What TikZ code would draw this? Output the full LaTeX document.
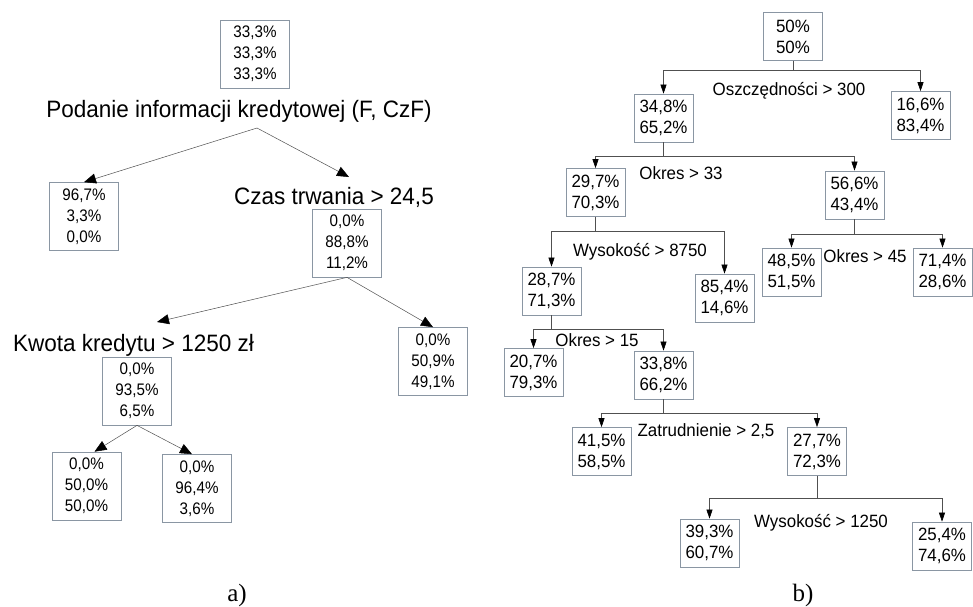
\documentclass[tikz,border=0pt]{standalone}
\usepackage{fontspec}
\setmainfont{Liberation Sans}[FakeStretch=0.95]
\newfontfamily\boxfont{Liberation Sans}[FakeStretch=0.91]
\newfontfamily\capfont{Liberation Serif}
\usepackage{xcolor}
\usepackage{tikz}
\usetikzlibrary{arrows.meta}
\definecolor{boxgray}{HTML}{8A96A3}
\definecolor{linegray}{HTML}{505050}

\begin{document}
\begin{tikzpicture}[x=1pt,y=-1pt,
    tribox/.style={draw=boxgray, line width=0.7pt, align=center, inner sep=0pt,
        minimum width=69, minimum height=68, font=\boxfont\fontsize{16.7}{21}\selectfont},
    duobox/.style={draw=boxgray, line width=0.7pt, align=center, inner sep=0pt,
        minimum width=59, minimum height=48, font=\fontsize{17.8}{21}\selectfont},
    bigcond/.style={anchor=base, inner sep=0pt, font=\fontsize{23.7}{28}\selectfont},
    cond/.style={anchor=base, inner sep=0pt, font=\fontsize{17.8}{21}\selectfont},
    slant/.style={draw=linegray, line width=0.5pt, -{Triangle[length=12pt,width=10pt,color=black]}},
    elbow/.style={draw=linegray, line width=0.6pt, -{Triangle[length=9pt,width=6pt,color=black]}}]
                \useasboundingbox[fill=white] (0,0) rectangle (973,606);

                % a) left tree
                \node[tribox] (b0) at (255,54) {33,3\%\\33,3\%\\33,3\%};
                \node[bigcond] (l0) at (239,117) {Podanie informacji kredytowej (F, CzF)};
                \node[tribox] (b1) at (84,216.5) {96,7\%\\3,3\%\\0,0\%};
                \node[bigcond] (l1) at (334,204) {Czas trwania > 24,5};
                \node[tribox] (b2) at (347,243) {0,0\%\\88,8\%\\11,2\%};
                \node[bigcond] (l2) at (133.5,351) {Kwota kredytu > 1250 zł};
                \node[tribox] (b3) at (137,391) {0,0\%\\93,5\%\\6,5\%};
                \node[tribox] (b4) at (433,361.5) {0,0\%\\50,9\%\\49,1\%};
                \node[tribox] (b5) at (86.5,486) {0,0\%\\50,0\%\\50,0\%};
                \node[tribox] (b6) at (197,488.5) {0,0\%\\96,4\%\\3,6\%};
                \coordinate (r0) at (257,128);
                \coordinate (c0) at (349,177);
                \coordinate (c1) at (157,322);
                \draw[slant] (r0) -- (b1.north);
                \draw[slant] (r0) -- (c0);
                \draw[slant] (b2.south) -- (c1);
                \draw[slant] (b2.south) -- (b4.north);
                \draw[slant] (b3.south) -- ([xshift=8]b5.north);
                \draw[slant] (b3.south) -- ([xshift=-5]b6.north);
                \node[anchor=base, font=\capfont\fontsize{25}{30}\selectfont] (ca) at (237,601) {a)};

                % b) right tree
                \node[duobox] (q0) at (793,36.5) {50\%\\50\%};
                \node[duobox] (q1) at (663.5,118) {34,8\%\\65,2\%};
                \node[duobox] (q2) at (920.5,115.5) {16,6\%\\83,4\%};
                \node[duobox] (q3) at (595.5,192.5) {29,7\%\\70,3\%};
                \node[duobox] (q4) at (854.5,195) {56,6\%\\43,4\%};
                \node[duobox] (q5) at (551.5,291) {28,7\%\\71,3\%};
                \node[duobox] (q6) at (724.5,298) {85,4\%\\14,6\%};
                \node[duobox] (q7) at (791.5,272) {48,5\%\\51,5\%};
                \node[duobox] (q8) at (942.5,272) {71,4\%\\28,6\%};
                \node[duobox] (q9) at (533.5,372.5) {20,7\%\\79,3\%};
                \node[duobox] (q10) at (663.5,375) {33,8\%\\66,2\%};
                \node[duobox] (q11) at (601.5,451.5) {41,5\%\\58,5\%};
                \node[duobox] (q12) at (817,451.5) {27,7\%\\72,3\%};
                \node[duobox] (q13) at (709.5,543) {39,3\%\\60,7\%};
                \node[duobox] (q14) at (942,546) {25,4\%\\74,6\%};
                \node[cond] (k0) at (789,95) {Oszczędności > 300};
                \node[cond] (k1) at (681,179) {Okres > 33};
                \node[cond] (k2) at (640,256) {Wysokość > 8750};
                \node[cond] (k3) at (865,262) {Okres > 45};
                \node[cond] (k4) at (597,346) {Okres > 15};
                \node[cond] (k5) at (706,436) {Zatrudnienie > 2,5};
                \node[cond] (k6) at (821,527) {Wysokość > 1250};
                \draw[elbow] (q0.south) -- ++(0,9) -| (q1.north);
                \draw[elbow] (q0.south) -- ++(0,9) -| (q2.north);
                \draw[elbow] (q1.south) -- ++(0,14) -| (q3.north);
                \draw[elbow] (q1.south) -- ++(0,14) -| (q4.north);
                \draw[elbow] (q3.south) -- ++(0,14) -| (q5.north);
                \draw[elbow] (q3.south) -- ++(0,14) -| (q6.north);
                \draw[elbow] (q4.south) -- ++(0,15) -| (q7.north);
                \draw[elbow] (q4.south) -- ++(0,15) -| (q8.north);
                \draw[elbow] (q5.south) -- ++(0,14) -| (q9.north);
                \draw[elbow] (q5.south) -- ++(0,14) -| (q10.north);
                \draw[elbow] (q10.south) -- ++(0,14) -| (q11.north);
                \draw[elbow] (q10.south) -- ++(0,14) -| (q12.north);
                \draw[elbow] (q12.south) -- ++(0,22) -| (q13.north);
                \draw[elbow] (q12.south) -- ++(0,22) -| (q14.north);
                \node[anchor=base, font=\capfont\fontsize{25}{30}\selectfont] (cb) at (803,601) {b)};
            \end{tikzpicture}
\end{document}
